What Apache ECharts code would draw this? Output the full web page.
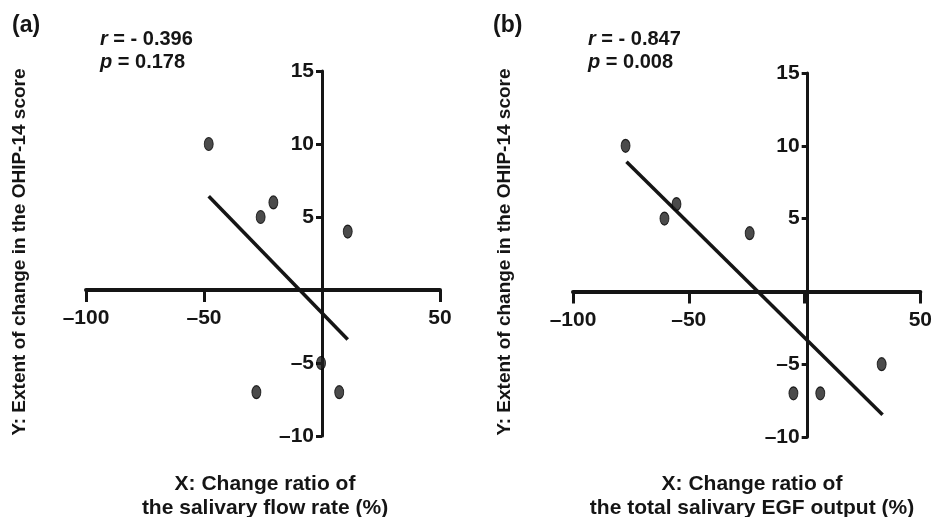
<!DOCTYPE html>
<html>
<head>
<meta charset="utf-8">
<script src="https://cdn.jsdelivr.net/npm/echarts@6/dist/echarts.min.js"></script>
<style>
html,body{margin:0;padding:0;background:#fff;}
#chart{width:935px;height:517px;}
</style>
</head>
<body>
<div id="chart"></div>
<script>
// Panel (a): change ratio of salivary flow rate vs OHIP-14 change
const xA = [-48, -26, -20.6, 10.9, -0.4, -27.8, 7.3];
const yA = [10, 5, 6, 4, -5, -7, -7];
const fitXA = [-48, 10.9];
const fitYA = [6.42, -3.39];
// Panel (b): change ratio of total salivary EGF output vs OHIP-14 change
const xB = [-77.3, -60.5, -55.3, -23.7, 33.3, -4.8, 6.8];
const yB = [10, 5, 6, 4, -5, -7, -7];
const fitXB = [-76.9, 33.7];
const fitYB = [8.9, -8.47];
// Axis ranges / tick steps
const xRange = [-100, 50];
const xStep = 50;
const yRange = [-10, 15];
const yStep = 5;
// Texts
const panelLabels = ['(a)', '(b)'];
const rValues = ['- 0.396', '- 0.847'];
const pValues = ['0.178', '0.008'];
const yTitle = 'Y: Extent of change in the OHIP-14 score';
const xTitles = ['X: Change ratio of\nthe salivary flow rate (%)', 'X: Change ratio of\nthe total salivary EGF output (%)'];

const pairs = (xs, ys) => xs.map((x, i) => [x, ys[i]]);

const tickFont = '"Liberation Sans Narrow", "Liberation Sans", Arial, sans-serif';
const textFont = '"Liberation Sans", Arial, sans-serif';
const ink = '#151515';

const grids = [
  {left: 86, top: 71, width: 354, height: 365},
  {left: 573, top: 73, width: 352, height: 364}
];

const tickFmt = v => v === 0 ? '' : (v < 0 ? '\u2013' + Math.abs(v) : String(v));

function xAxisCfg(gi) {
  const g = grids[gi];
  // place the x axis line where y = 0 lies inside the grid
  const off = -g.height * (0 - yRange[0]) / (yRange[1] - yRange[0]);
  return {
    gridIndex: gi, type: 'value', min: xRange[0], max: xRange[1], interval: xStep,
    position: 'bottom', offset: off,
    splitLine: {show: false},
    axisLine: {onZero: false, lineStyle: {color: ink, width: 4}},
    axisTick: {show: true, inside: false, length: 12, lineStyle: {color: ink, width: 3}},
    axisLabel: {margin: 18, color: ink, fontFamily: tickFont, fontSize: 21, fontWeight: 'bold', formatter: tickFmt}
  };
}
function yAxisCfg(gi) {
  const g = grids[gi];
  // place the y axis line where x = 0 lies inside the grid
  const off = -g.width * (0 - xRange[0]) / (xRange[1] - xRange[0]);
  return {
    gridIndex: gi, type: 'value', min: yRange[0], max: yRange[1], interval: yStep,
    position: 'left', offset: off,
    splitLine: {show: false},
    axisLine: {onZero: false, lineStyle: {color: ink, width: 3}},
    axisTick: {show: true, inside: false, length: 6, lineStyle: {color: ink, width: 3}},
    axisLabel: {margin: 8, color: ink, fontFamily: tickFont, fontSize: 21, fontWeight: 'bold', formatter: tickFmt}
  };
}

const chart = echarts.init(document.getElementById('chart'), null, {renderer: 'canvas'});

const statsText = (i) => ({
  type: 'text',
  style: {
    text: '{i|r} = ' + rValues[i] + '\n{i|p} = ' + pValues[i],
    fill: ink,
    font: 'bold 20px ' + textFont,
    lineHeight: 23,
    rich: {i: {fontStyle: 'italic', fontWeight: 'bold', fontSize: 20, fontFamily: textFont, fill: ink, lineHeight: 23}}
  }
});

const markerStyle = {color: '#1e1e1e', borderColor: '#000', borderWidth: 1};

const option = {
  backgroundColor: '#fff',
  animation: false,
  grid: grids,
  xAxis: [xAxisCfg(0), xAxisCfg(1)],
  yAxis: [yAxisCfg(0), yAxisCfg(1)],
  series: [
    {type: 'scatter', xAxisIndex: 0, yAxisIndex: 0, data: pairs(xA, yA), symbol: 'circle', symbolSize: [9, 13],
     itemStyle: markerStyle, z: 5},
    {type: 'line', xAxisIndex: 0, yAxisIndex: 0, data: pairs(fitXA, fitYA), showSymbol: false, symbol: 'none',
     lineStyle: {color: ink, width: 3.5}, z: 4},
    {type: 'scatter', xAxisIndex: 1, yAxisIndex: 1, data: pairs(xB, yB), symbol: 'circle', symbolSize: [9, 13],
     itemStyle: markerStyle, z: 5},
    {type: 'line', xAxisIndex: 1, yAxisIndex: 1, data: pairs(fitXB, fitYB), showSymbol: false, symbol: 'none',
     lineStyle: {color: ink, width: 3.5}, z: 4}
  ],
  graphic: [
    {type: 'text', left: 12, top: 14, style: {text: panelLabels[0], fill: ink, font: 'bold 23px ' + textFont}},
    {type: 'text', left: 493, top: 14, style: {text: panelLabels[1], fill: ink, font: 'bold 23px ' + textFont}},
    Object.assign(statsText(0), {left: 100, top: 28}),
    Object.assign(statsText(1), {left: 588, top: 28}),
    {type: 'text', x: 20, y: 252, rotation: Math.PI / 2,
     style: {text: yTitle, fill: ink, font: 'bold 19px ' + textFont, align: 'center', verticalAlign: 'middle'}},
    {type: 'text', x: 505, y: 252, rotation: Math.PI / 2,
     style: {text: yTitle, fill: ink, font: 'bold 19px ' + textFont, align: 'center', verticalAlign: 'middle'}},
    {type: 'text', x: 265, y: 496, style: {text: xTitles[0], fill: ink, font: 'bold 21px ' + textFont, align: 'center', verticalAlign: 'middle', lineHeight: 24}},
    {type: 'text', x: 752, y: 496, style: {text: xTitles[1], fill: ink, font: 'bold 21px ' + textFont, align: 'center', verticalAlign: 'middle', lineHeight: 24}}
  ]
};
chart.setOption(option);
</script>
</body>
</html>
